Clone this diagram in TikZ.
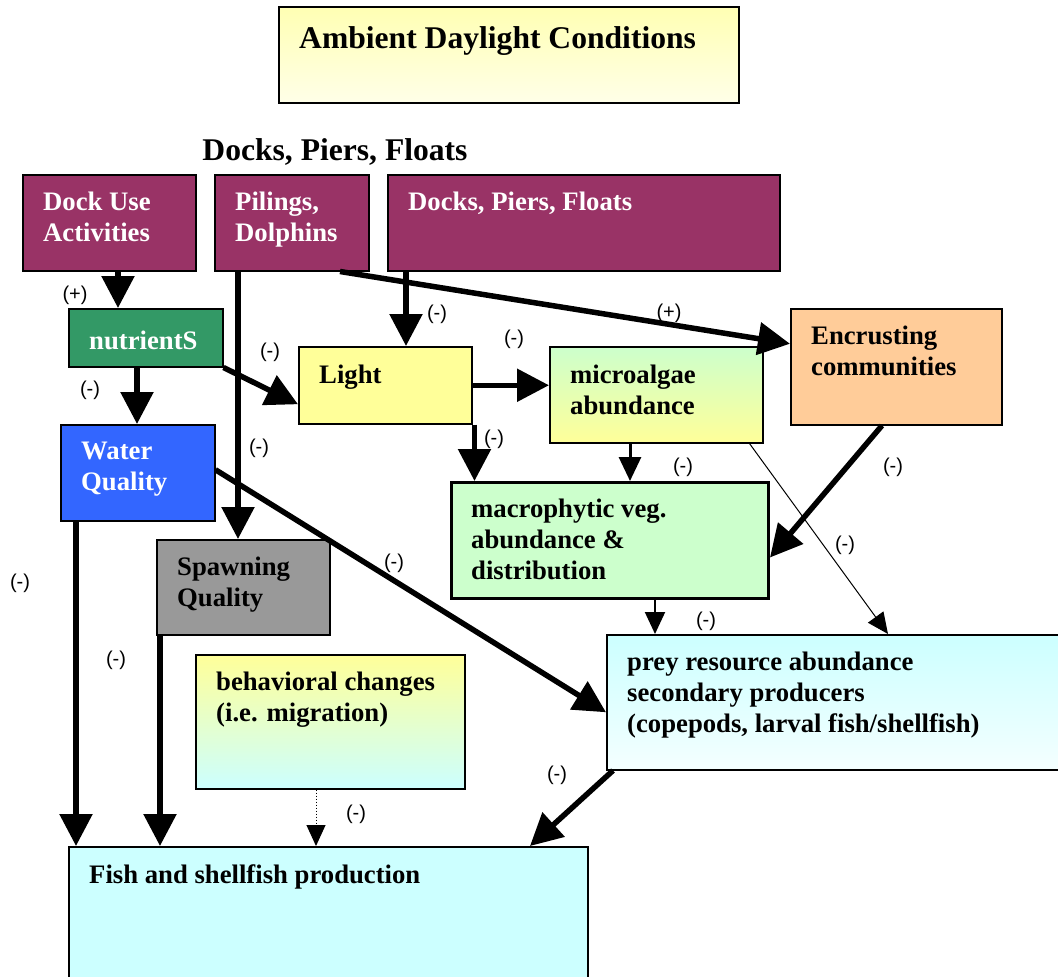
\documentclass[tikz,border=0pt]{standalone}
\usepackage{fontspec}
\setmainfont{Liberation Serif}
\newfontfamily\signfont{Liberation Sans}
\usetikzlibrary{arrows.meta, calc}

\definecolor{dockred}{HTML}{993366}
\definecolor{nutrigreen}{HTML}{339966}
\definecolor{waterblue}{HTML}{3366FF}
\definecolor{lightyellow}{HTML}{FFFF99}
\definecolor{paleyellow}{HTML}{FFFFB3}
\definecolor{titlewhite}{HTML}{FFFFE8}
\definecolor{palegreen}{HTML}{CCFFCC}
\definecolor{encrorange}{HTML}{FFCC99}
\definecolor{spawngrey}{HTML}{999999}
\definecolor{palecyan}{HTML}{CCFFFF}
\definecolor{cyanwhite}{HTML}{F4FFFF}

\newcommand{\boxfont}{\fontsize{26.7}{31}\selectfont\bfseries}
\newcommand{\headfont}{\fontsize{31.6}{36}\selectfont\bfseries}
\newcommand{\signsize}{\signfont\fontsize{20}{24}\selectfont}

\tikzset{
    my-box/.style={
        draw, line width=1.5pt, anchor=north west, inner sep=0pt
    },
    my-text/.style={
        anchor=north west, inner xsep=21pt, inner ysep=18pt, align=left, font=\boxfont
    },
    my-sign/.style={font=\signsize, inner sep=0pt},
    thick-arrow/.style={line width=5.5pt, -{Triangle[length=32pt, width=32pt]}},
    mid-arrow/.style={line width=3pt, -{Triangle[length=24pt, width=22pt]}},
    thin-arrow/.style={line width=2pt, -{Triangle[length=22pt, width=20pt]}},
    hair-arrow/.style={line width=1pt, -{Triangle[length=21pt, width=19pt]}},
}

\begin{document}
\begin{tikzpicture}[x=1pt, y=-1pt]

        \useasboundingbox (0,0) rectangle (1058,977);

        % HEADINGS
        \node[my-box, minimum width=460pt, minimum height=96pt, top color=paleyellow, bottom color=titlewhite,
              label={[my-text, font=\headfont, inner ysep=20pt]north west:{Ambient Daylight Conditions}}] (TITLE) at (278,6) {};
        \node[font=\headfont] (HEAD) at (335,152) {Docks, Piers, Floats};

        % SOURCES
        \node[my-box, fill=dockred, minimum width=173pt, minimum height=96pt,
              label={[my-text, text=white]north west:{Dock Use\\Activities}}] (DOCK) at (22,174) {};
        \node[my-box, fill=dockred, minimum width=154pt, minimum height=96pt,
              label={[my-text, text=white]north west:{Pilings,\\Dolphins}}] (PILING) at (214,174) {};
        \node[my-box, fill=dockred, minimum width=392pt, minimum height=96pt,
              label={[my-text, text=white]north west:{Docks, Piers, Floats}}] (DOCKS) at (387,174) {};

        % MIDDLE BOXES
        \node[my-box, fill=nutrigreen, minimum width=154pt, minimum height=58pt,
              label={[my-text, text=white, inner ysep=23pt]north west:{nutrientS}}] (NUTRI) at (68,308) {};
        \node[my-box, fill=waterblue, minimum width=154pt, minimum height=96pt,
              label={[my-text, text=white]north west:{Water\\Quality}}] (WATER) at (60,424) {};
        \node[my-box, fill=lightyellow, minimum width=173pt, minimum height=77pt,
              label={[my-text, inner ysep=19pt]north west:{Light}}] (LIGHT) at (298,346) {};
        \node[my-box, top color=palegreen, bottom color=lightyellow, minimum width=213pt, minimum height=96pt,
              label={[my-text, inner ysep=19pt]north west:{microalgae\\abundance}}] (MICRO) at (549,346) {};
        \node[my-box, fill=encrorange, minimum width=211pt, minimum height=116pt,
              label={[my-text]north west:{Encrusting\\communities}}] (ENCR) at (790,308) {};
        \node[my-box, fill=palegreen, line width=3pt, minimum width=317pt, minimum height=116pt,
              label={[my-text]north west:{macrophytic veg.\\abundance \&\\distribution}}] (MACRO) at (450,481) {};
        \node[my-box, fill=spawngrey, minimum width=173pt, minimum height=95pt,
              label={[my-text]north west:{Spawning\\Quality}}] (SPAWN) at (156,539) {};
        \node[my-box, top color=lightyellow, bottom color=palecyan, minimum width=269pt, minimum height=134pt,
              label={[my-text]north west:{behavioral changes\\(i.e. migration)}}] (BEHAV) at (195,654) {};
        \node[my-box, top color=palecyan, bottom color=cyanwhite, minimum width=470pt, minimum height=135pt,
              label={[my-text]north west:{prey resource abundance\\secondary producers\\(copepods, larval fish/shellfish)}}] (PREY) at (606,634) {};

        % OUTPUT
        \node[my-box, fill=palecyan, minimum width=519pt, minimum height=150pt,
              label={[my-text]north west:{Fish and shellfish production}}] (FISH) at (68,846) {};

        % CONNECTOR POINTS
        \coordinate (DOCKOUT)   at ([xshift=96pt]DOCK.south west);
        \coordinate (DOCKSOUT)  at ([xshift=19pt]DOCKS.south west);
        \coordinate (PILEOUT1)  at ([xshift=24pt]PILING.south west);
        \coordinate (PILEOUT2)  at ([xshift=126pt]PILING.south west);
        \coordinate (ENCRIN)    at ([yshift=23pt]ENCR.west);
        \coordinate (ENCROUT)   at ([xshift=92pt]ENCR.south west);
        \coordinate (NUTRIOUT)  at ([xshift=69pt]NUTRI.south west);
        \coordinate (LIGHTIN)   at ([yshift=-19pt]LIGHT.west);
        \coordinate (LIGHTOUT)  at ([xshift=2pt]LIGHT.south east);
        \coordinate (MICROOUT1) at ([xshift=81pt]MICRO.south west);
        \coordinate (MICROOUT2) at ([xshift=-14pt]MICRO.south east);
        \coordinate (MACROIN)   at ([yshift=-17pt]MACRO.east);
        \coordinate (MACROOUT)  at ([xshift=205pt]MACRO.south west);
        \coordinate (WATEROUT1) at ([yshift=3pt]WATER.east);
        \coordinate (WATEROUT2) at ([xshift=16pt]WATER.south west);
        \coordinate (SPAWNOUT)  at ([xshift=4pt]SPAWN.south west);
        \coordinate (BEHAVOUT)  at ([xshift=121pt]BEHAV.south west);
        \coordinate (PREYIN1)   at ([xshift=282pt]PREY.north west);
        \coordinate (PREYIN2)   at ([yshift=-10pt]PREY.west);
        \coordinate (PREYOUT)   at ([xshift=7pt]PREY.south west);
        \coordinate (FISHIN)    at ([xshift=462pt]FISH.north west);

        % CONNECTIONS
        \draw[thick-arrow] (DOCKOUT) -- (DOCKOUT |- NUTRI.north);
        \draw[thick-arrow] (DOCKSOUT) -- (DOCKSOUT |- LIGHT.north);
        \draw[thick-arrow] (PILEOUT2) -- (ENCRIN);
        \draw[thick-arrow] (PILEOUT1) -- (PILEOUT1 |- SPAWN.north);
        \draw[thick-arrow] (NUTRI.south east) -- (LIGHTIN);
        \draw[thick-arrow] (NUTRIOUT) -- (NUTRIOUT |- WATER.north);
        \draw[thick-arrow] (LIGHT.east) -- (LIGHT.east -| MICRO.west);
        \draw[thick-arrow] (LIGHTOUT) -- (LIGHTOUT |- MACRO.north);
        \draw[mid-arrow]   (MICROOUT1) -- (MICROOUT1 |- MACRO.north);
        \draw[hair-arrow]  (MICROOUT2) -- (PREYIN1);
        \draw[thick-arrow] (ENCROUT) -- (MACROIN);
        \draw[thick-arrow] (WATEROUT1) -- (PREYIN2);
        \draw[thin-arrow]  (MACROOUT) -- (MACROOUT |- PREY.north);
        \draw[thick-arrow] (WATEROUT2) -- (WATEROUT2 |- FISH.north);
        \draw[thick-arrow] (SPAWNOUT) -- (SPAWNOUT |- FISH.north);
        \draw[hair-arrow, dotted] (BEHAVOUT) -- (BEHAVOUT |- FISH.north);
        \draw[thick-arrow] (PREYOUT) -- (FISHIN);

        % SIGNS
        \node[my-sign] (SDOCK)   at (75,295)  {(+)};
        \node[my-sign] (SDOCKS)  at (437,314) {(-)};
        \node[my-sign] (SENCR)   at (669,313) {(+)};
        \node[my-sign] (SSPAWN)  at (259,448) {(-)};
        \node[my-sign] (SLIGHT)  at (270,352) {(-)};
        \node[my-sign] (SWATER)  at (90,390)  {(-)};
        \node[my-sign] (SMICRO)  at (514,339) {(-)};
        \node[my-sign] (SMACRO1) at (494,439) {(-)};
        \node[my-sign] (SMACRO2) at (683,467) {(-)};
        \node[my-sign] (SPREY1)  at (845,545) {(-)};
        \node[my-sign] (SMACRO3) at (893,467) {(-)};
        \node[my-sign] (SPREY2)  at (394,563) {(-)};
        \node[my-sign] (SPREY3)  at (706,621) {(-)};
        \node[my-sign] (SFISH1)  at (20,583)  {(-)};
        \node[my-sign] (SFISH2)  at (116,660) {(-)};
        \node[my-sign] (SFISH3)  at (356,814) {(-)};
        \node[my-sign] (SFISH4)  at (557,775) {(-)};

\end{tikzpicture}
\end{document}
